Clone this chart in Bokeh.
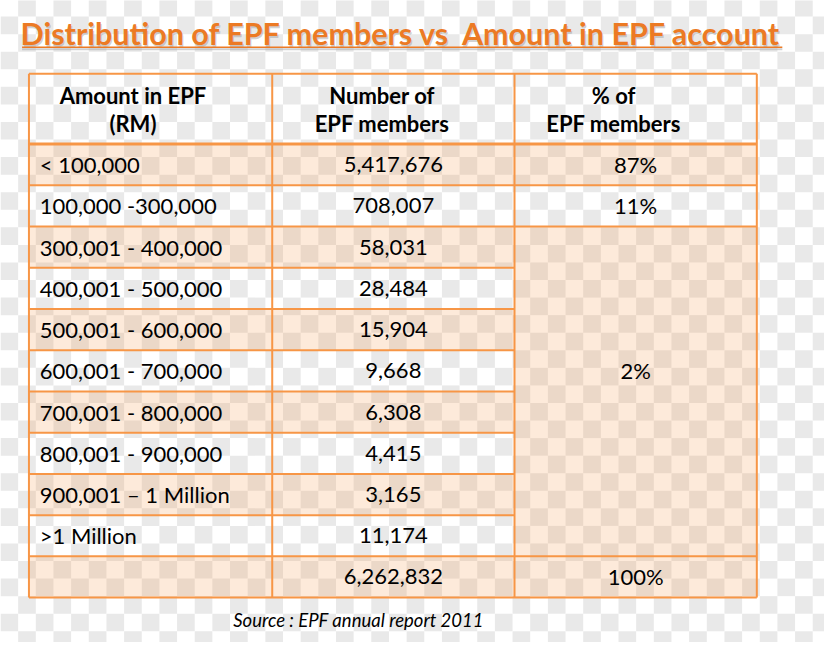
import numpy as np
from bokeh.plotting import figure
from bokeh.models import Range1d
from bokeh.core.properties import value
from bokeh.embed import file_html
from bokeh.resources import INLINE

# ---------------- data ----------------
title = "Distribution of EPF members vs\u00a0 Amount in EPF account"
header_amount = ["Amount in EPF", "(RM)"]
header_members = ["Number of", "EPF members"]
header_pct = ["% of", "EPF members"]
amount_labels = ["< 100,000", "100,000 -300,000", "300,001 - 400,000",
                 "400,001 - 500,000", "500,001 - 600,000", "600,001 - 700,000",
                 "700,001 - 800,000", "800,001 - 900,000", "900,001 \u2013 1 Million",
                 ">1 Million"]
members = [5417676, 708007, 58031, 28484, 15904, 9668, 6308, 4415, 3165, 11174]
total_members = 6262832
pct_labels = ["87%", "11%", "2%"]
pct_spans = [(0, 0), (1, 1), (2, 9)]      # first/last row of each % cell
total_pct = "100%"
source = "Source : EPF annual report 2011"

# ---------------- layout ----------------
ORANGE = "#F79646"
FONT = "Lato"
col_x = [29, 277, 524, 771]
head_top, head_bot = 75, 147
n_rows = len(amount_labels) + 1
row_h = (612 - head_bot) / n_rows
row_edges = [head_bot + row_h * i for i in range(n_rows + 1)]
row_mid = [(row_edges[i] + row_edges[i + 1]) / 2 for i in range(n_rows)]

p = figure(width=824, height=642, output_backend="svg", toolbar_location=None,
           x_range=Range1d(0, 840), y_range=Range1d(658, 0),
           x_axis_type=None, y_axis_type=None, min_border=0)
p.grid.visible = False
p.outline_line_color = None
p.background_fill_color = "white"
p.border_fill_color = "white"

# transparency checkerboard backdrop
sq = 18.0
xs = np.arange(0, 48) * sq
ys = -1.5 + np.arange(0, 38) * sq
gi, gj = np.meshgrid(np.arange(len(xs)), np.arange(len(ys)))
mask = ((gi + gj) % 2 == 1)
L = xs[gi[mask]]
T = ys[gj[mask]]
p.quad(left=L, right=L + sq, top=T, bottom=T + sq, fill_color="#e9e9e9",
       line_color=None)

# shaded cells
sl, sr, st, sb = [], [], [], []
for r in range(0, n_rows, 2):
    sl.append(col_x[0]); sr.append(col_x[2])
    st.append(row_edges[r]); sb.append(row_edges[r + 1])
for (a, b) in pct_spans:
    if a % 2 == 0:
        sl.append(col_x[2]); sr.append(col_x[3])
        st.append(row_edges[a]); sb.append(row_edges[b + 1])
sl.append(col_x[2]); sr.append(col_x[3])
st.append(row_edges[n_rows - 1]); sb.append(row_edges[n_rows])
p.quad(left=sl, right=sr, top=st, bottom=sb, fill_color=ORANGE,
       fill_alpha=0.2, line_color=None)

# grid lines
x0, y0, x1, y1 = [], [], [], []
for cx in col_x:
    x0.append(cx); x1.append(cx); y0.append(head_top); y1.append(row_edges[-1])
x0.append(col_x[0]); x1.append(col_x[3]); y0.append(head_top); y1.append(head_top)
merged_inner = set()
for (a, b) in pct_spans:
    for r in range(a + 1, b + 1):
        merged_inner.add(r)
for r in range(0, n_rows + 1):
    y = row_edges[r]
    right = col_x[2] if r in merged_inner else col_x[3]
    x0.append(col_x[0]); x1.append(right); y0.append(y); y1.append(y)
p.segment(x0=x0, y0=y0, x1=x1, y1=y1, line_color=ORANGE, line_width=2)
p.segment(x0=[col_x[0]], y0=[head_bot], x1=[col_x[3]], y1=[head_bot],
          line_color=ORANGE, line_width=3)

FS = "22px"
# header text
hy = [97, 126]
for lines, cx in ((header_amount, 135), (header_members, 389), (header_pct, 625)):
    p.text(x=[cx] * 2, y=hy, text=lines, text_font=value(FONT),
           text_font_style="bold", text_font_size=FS, text_align="center",
           text_baseline="middle", text_color="black")

# body text
p.text(x=[40] * len(amount_labels), y=row_mid[:len(amount_labels)],
       text=amount_labels, text_font=value(FONT), text_font_size=FS,
       text_align="left", text_baseline="middle", text_color="black")
mem_txt = [f"{v:,}" for v in members] + [f"{total_members:,}"]
p.text(x=[(col_x[1] + col_x[2]) / 2] * len(mem_txt), y=row_mid, text=mem_txt,
       text_font=value(FONT), text_font_size=FS, text_align="center",
       text_baseline="middle", text_color="black")
pct_y = []
for (a, b) in pct_spans:
    pct_y.append(row_mid[(a + b) // 2])
p.text(x=[(col_x[2] + col_x[3]) / 2] * 4, y=pct_y + [row_mid[-1]],
       text=pct_labels + [total_pct], text_font=value(FONT),
       text_font_size=FS, text_align="center", text_baseline="middle",
       text_color="black")

# title with shadow + underline
TFS = "30.5px"
p.text(x=[410], y=[35], text=[title], text_font=value(FONT),
       text_font_style="bold", text_font_size=TFS, text_align="center",
       text_baseline="middle", text_color="#9a9a9a", text_alpha=0.45)
p.text(x=[409], y=[33], text=[title], text_font=value(FONT),
       text_font_style="bold", text_font_size=TFS, text_align="center",
       text_baseline="middle", text_color="#EC7A24")
p.segment(x0=[22], y0=[50], x1=[797], y1=[50], line_color="#b0b0b0",
          line_width=2, line_alpha=0.6)
p.segment(x0=[22], y0=[48], x1=[797], y1=[48], line_color="#EC7A24",
          line_width=1.5)

# source
p.text(x=[365], y=[635], text=[source], text_font=value(FONT),
       text_font_style="italic", text_font_size="18.5px", text_align="center",
       text_baseline="middle", text_color="black")

open("out.html", "w").write(file_html(p, INLINE))
